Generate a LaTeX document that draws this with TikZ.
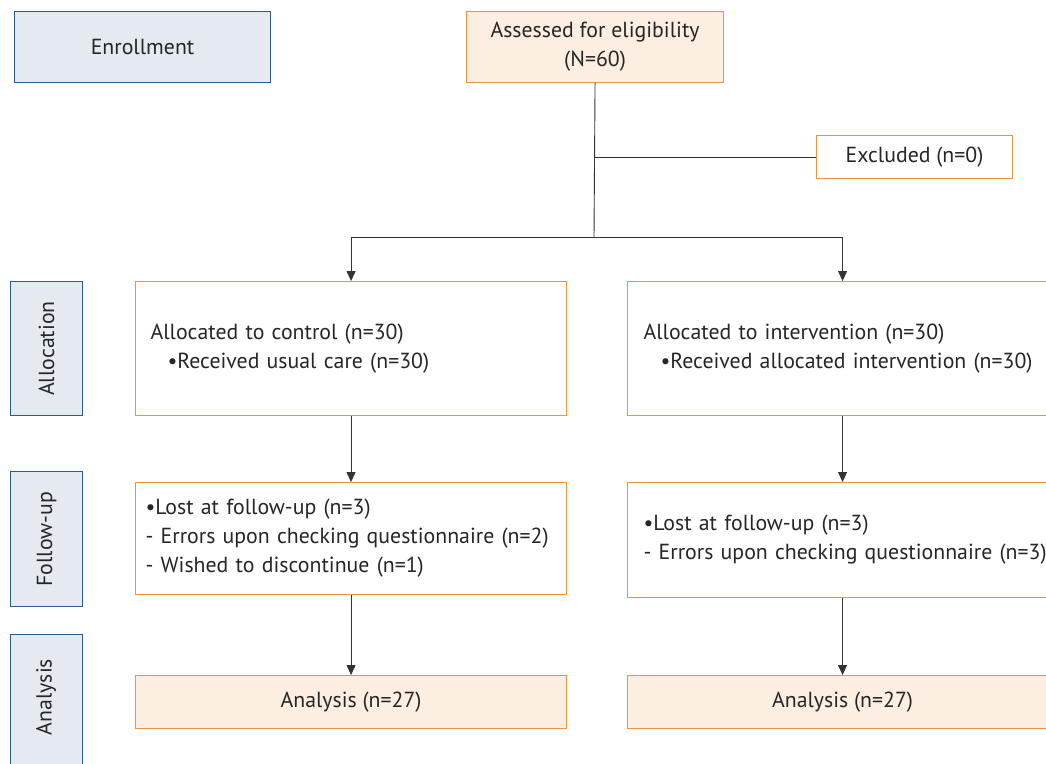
\documentclass[tikz,border=0pt]{standalone}
\usepackage{fontspec}
\setmainfont{PT Sans}
\usetikzlibrary{arrows.meta}
\definecolor{ornline}{HTML}{F7913A}
\definecolor{ornfill}{HTML}{FDEEE2}
\definecolor{blueline}{HTML}{2A5A95}
\definecolor{bluefill}{HTML}{E5EAF1}
\definecolor{conn}{HTML}{333333}
\tikzset{
  lbl/.style={font=\fontsize{21.8}{29}\selectfont, text=black!85},
  obox/.style={draw=ornline, line width=1.1pt, anchor=north west, inner sep=0pt, lbl},
  ofill/.style={obox, fill=ornfill},
  sbox/.style={draw=blueline, fill=bluefill, line width=1.1pt, anchor=north west, inner sep=0pt, lbl},
  txtbox/.style={obox, align=left, inner xsep=#1, text width=400pt},
  conline/.style={draw=conn, line width=0.9pt},
  arr/.style={conline, -{Triangle[width=9pt,length=10pt]}}
}
\begin{document}
\begin{tikzpicture}[x=1pt,y=-1pt]
\useasboundingbox (0,0) rectangle (1046,763);
\clip (0,0) rectangle (1046,763);
\fill[white] (0,0) rectangle (1046,763);
% side labels
\node[sbox, minimum width=256pt, minimum height=71pt] (enr) at (14,11) {Enrollment};
\node[sbox, minimum width=72pt, minimum height=134pt] (sal) at (10,281) {\rotatebox{90}{Allocation}};
\node[sbox, minimum width=72pt, minimum height=135pt] (sfu) at (10,471) {\rotatebox{90}{Follow-up}};
\node[sbox, minimum width=72pt, minimum height=160pt] (san) at (10,634) {};
\node[lbl, rotate=90] (sanl) at (46,697) {Analysis};
% top
\node[ofill, minimum width=257pt, minimum height=71pt, align=center] (assess) at (466,11) {Assessed for eligibility\\(N=60)};
\node[obox, minimum width=196pt, minimum height=43pt] (excl) at (816,135) {Excluded (n=0)};
% allocation
\node[txtbox=15pt, text width=401pt, minimum height=134pt] (allocL) at (135,281) {Allocated to control (n=30)\\\hspace*{17pt}•Received usual care (n=30)};
\node[txtbox=16pt, text width=398pt, minimum height=134pt] (allocR) at (627,281) {Allocated to intervention (n=30)\\\hspace*{17pt}\mbox{•Received allocated intervention (n=30)}};
% follow-up
\node[txtbox=10pt, text width=411pt, minimum height=112pt] (fuL) at (135,482) {•Lost at follow-up (n=3)\\- Errors upon checking questionnaire (n=2)\\- Wished to discontinue (n=1)};
\node[txtbox=16pt, text width=398pt, minimum height=115pt] (fuR) at (627,482) {•Lost at follow-up (n=3)\\\mbox{- Errors upon checking questionnaire (n=3)}};
% analysis
\node[ofill, minimum width=431pt, minimum height=53pt] (anL) at (135,675) {Analysis (n=27)};
\node[ofill, minimum width=430pt, minimum height=53pt] (anR) at (627,675) {Analysis (n=27)};
% connectors
\coordinate (split) at (594,237);
\draw[conline] (assess.south) -- (split);
\draw[conline] (assess.south |- excl.west) -- (excl.west);
\draw[arr] (split) -| (allocL.north);
\draw[arr] (split) -| (allocR.north);
\draw[arr] (allocL.south) -- (fuL.north);
\draw[arr] (allocR.south) -- (fuR.north);
\draw[arr] (fuL.south) -- (anL.north);
\draw[arr] (fuR.south) -- (anR.north);
\end{tikzpicture}
\end{document}
